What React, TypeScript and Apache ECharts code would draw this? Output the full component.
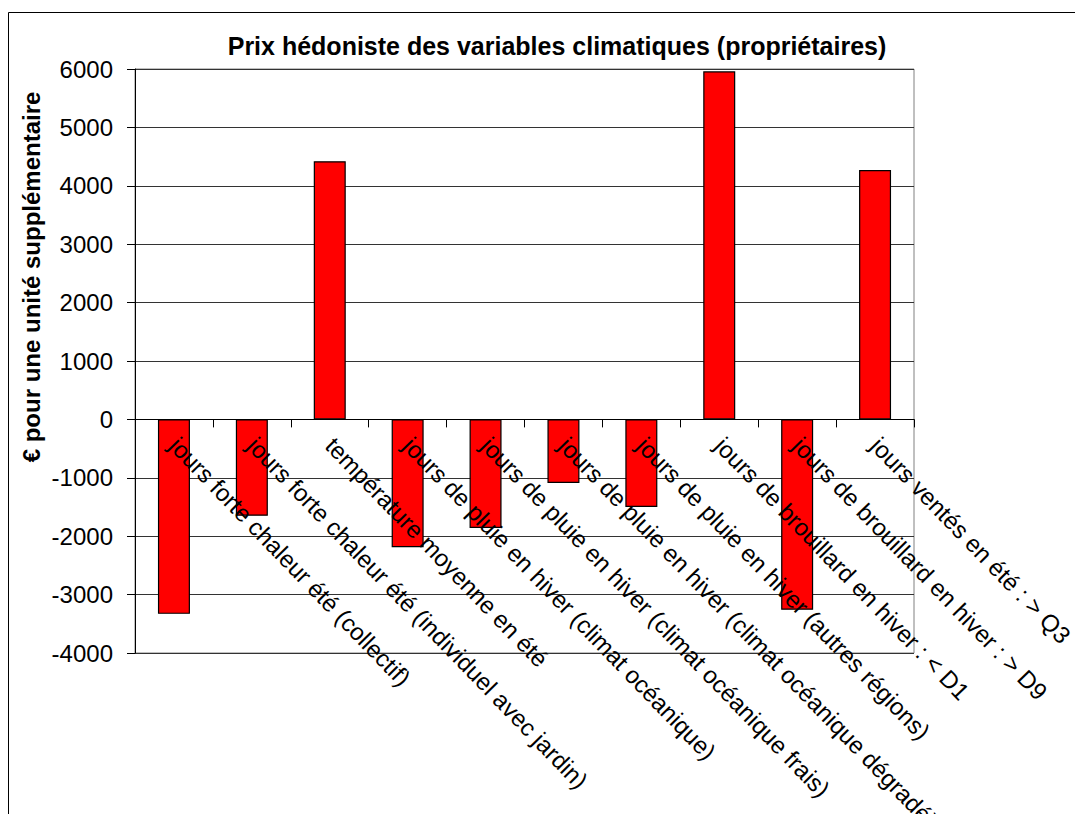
import React, { useEffect, useRef } from "react";
import * as echarts from "echarts";

const categories = [
  "jours forte chaleur été (collectif)",
  "jours forte chaleur été (individuel avec jardin)",
  "température moyenne en été",
  "jours de pluie en hiver (climat océanique)",
  "jours de pluie en hiver (climat océanique frais)",
  "jours de pluie en hiver (climat océanique dégradé)",
  "jours de pluie en hiver (autres régions)",
  "jours de brouillard en hiver : < D1",
  "jours de brouillard en hiver : > D9",
  "jours ventés en été : > Q3",
];
const values = [-3330, -1650, 4420, -2190, -1860, -1090, -1500, 5960, -3260, 4270];
const titleText = "Prix hédoniste des variables climatiques (propriétaires)";
const yAxisName = "€ pour une unité supplémentaire";
const yMin = -4000;
const yMax = 6000;
const yInterval = 1000;

const FONT = "'Liberation Sans', Arial, sans-serif";

const GRID_TOP = 69;
const GRID_BOTTOM = 161;
const CHART_H = 814;

export default function App() {
  const ref = useRef<HTMLDivElement>(null);
  useEffect(() => {
    if (!ref.current) return;
    const chart = echarts.init(ref.current, null, { renderer: "svg" });
    const plotH = CHART_H - GRID_TOP - GRID_BOTTOM;
    // distance from grid bottom up to the zero line
    const zeroOffset = (plotH * (0 - yMin)) / (yMax - yMin);
    chart.setOption({
      animation: false,
      backgroundColor: "#fff",
      textStyle: { fontFamily: FONT },
      grid: {
        left: 135,
        right: 161,
        top: GRID_TOP,
        bottom: GRID_BOTTOM,
        containLabel: false,
        outerBoundsMode: "none",
        show: true,
        borderColor: "#808080",
        borderWidth: 1,
        backgroundColor: "transparent",
      },
      graphic: [
        {
          type: "rect",
          shape: { x: 8.5, y: 12.5, width: 1200, height: 1000 },
          style: { fill: "none", stroke: "#000", lineWidth: 1 },
          silent: true,
          z: -10,
        },
        {
          type: "text",
          x: 557,
          y: 46,
          style: {
            text: titleText,
            fontFamily: FONT,
            fontSize: 25,
            fontWeight: "bold",
            fill: "#000",
            align: "center",
            verticalAlign: "middle",
          },
        },
        {
          type: "text",
          x: 31,
          y: 277,
          rotation: Math.PI / 2,
          style: {
            text: yAxisName,
            fontFamily: FONT,
            fontSize: 24,
            fontWeight: "bold",
            fill: "#000",
            align: "center",
            verticalAlign: "middle",
          },
        },
      ],
      xAxis: {
        type: "category",
        data: categories,
        position: "bottom",
        offset: -zeroOffset,
        z: 10,
        axisLine: { onZero: false, lineStyle: { color: "#000", width: 1 } },
        axisTick: { show: true, length: 8, lineStyle: { color: "#000" } },
        axisLabel: {
          interval: 0,
          rotate: -46,
          margin: 22,
          fontSize: 24,
          fontFamily: FONT,
          color: "#000",
        },
        splitLine: { show: false },
      },
      yAxis: {
        type: "value",
        min: yMin,
        max: yMax,
        interval: yInterval,
        axisLine: { show: true, lineStyle: { color: "#000", width: 1 } },
        axisTick: { show: true, length: 8, lineStyle: { color: "#000" } },
        axisLabel: {
          margin: 22,
          fontSize: 24,
          fontFamily: FONT,
          color: "#000",
          formatter: (v: number) => String(v),
        },
        splitLine: { show: true, lineStyle: { color: "#333", width: 1 } },
      },
      series: [
        {
          type: "bar",
          data: values,
          barWidth: 32,
          z: 2,
          itemStyle: { color: "#ff0000", borderColor: "#000", borderWidth: 1.2 },
        },
      ],
    });
    return () => chart.dispose();
  }, []);
  return (
    <div
      ref={ref}
      style={{ position: "absolute", left: 0, top: 0, width: 1075, height: 814 }}
    />
  );
}
